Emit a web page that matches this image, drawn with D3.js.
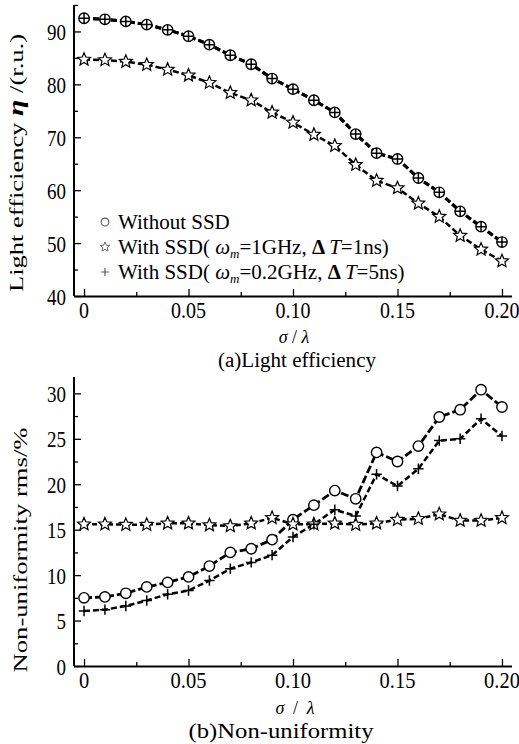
<!DOCTYPE html>
<html><head><meta charset="utf-8">
<script src="https://cdn.jsdelivr.net/npm/d3@7"></script>
<style>
body{margin:0;background:#fff;}
</style></head>
<body>
<svg id="c" width="519" height="744" font-family="Liberation Serif, Times New Roman, DejaVu Serif, serif"></svg>
<script>
const sigma = [0,0.01,0.02,0.03,0.04,0.05,0.06,0.07,0.08,0.09,0.10,0.11,0.12,0.13,0.14,0.15,0.16,0.17,0.18,0.19,0.20];
// (a) Light efficiency
const effWithout = [92.5,92.3,91.9,91.3,90.3,89.1,87.5,85.5,83.8,81.1,79.1,77.0,74.7,70.6,67.0,65.9,62.3,59.6,56.0,53.1,50.2];
const effSSD1 = [84.7,84.6,84.3,83.7,82.8,81.7,80.3,78.4,77.0,74.7,72.8,70.5,68.4,64.8,61.8,60.4,57.5,55.0,51.4,48.8,46.6];
const effSSD2 = [92.5,92.3,91.9,91.3,90.3,89.1,87.5,85.5,83.8,81.1,79.1,77.0,74.7,70.6,67.0,65.9,62.3,59.6,56.0,53.1,50.2];
// (b) Non-uniformity
const nuWithout = [7.5,7.6,8.0,8.7,9.2,9.8,11.0,12.5,12.9,13.9,16.1,17.7,19.3,18.4,23.5,22.5,24.2,27.4,28.2,30.4,28.5];
const nuSSD1 = [15.6,15.6,15.55,15.55,15.7,15.7,15.5,15.4,15.7,16.3,15.6,15.6,15.7,15.55,15.7,16.1,16.2,16.7,16.0,16.0,16.3];
const nuSSD2 = [6.05,6.2,6.6,7.2,7.9,8.3,9.4,10.7,11.4,12.2,14.2,15.6,17.2,16.5,21.1,19.8,21.7,24.8,25.0,27.2,25.3];
const xTicks = [0,0.05,0.10,0.15,0.20];
const xTickLabels = ["0","0.05","0.10","0.15","0.20"];
const effTicks = [40,50,60,70,80,90];
const nuTicks = [0,5,10,15,20,25,30];

const svg = d3.select("#c");

function starPath(r){
  const ri = r*0.45; let p=[];
  for(let i=0;i<10;i++){const a=-Math.PI/2+i*Math.PI/5; const rr=i%2?ri:r; p.push([rr*Math.cos(a),rr*Math.sin(a)]);}
  return "M"+p.map(d=>d.join(",")).join("L")+"Z";
}
function drawMarker(g,type,x,y,s){
  s = s||1;
  if(type==="circle"){
    g.append("circle").attr("cx",x).attr("cy",y).attr("r",5.2*s).attr("fill","#fff").attr("stroke","#000").attr("stroke-width",1.4*s);
  } else if(type==="star"){
    g.append("path").attr("d",starPath(6.8*s)).attr("transform",`translate(${x},${y})`).attr("fill","#fff").attr("stroke","#000").attr("stroke-width",1.2*s).attr("stroke-linejoin","miter");
  } else {
    const h=5.2*s;
    g.append("path").attr("d",`M${x-h},${y}H${x+h}M${x},${y-h}V${y+h}`).attr("stroke","#000").attr("stroke-width",1.5*s).attr("fill","none");
  }
}
function stext(g,x,y,str,size,anchor,ky){
  return g.append("text").attr("transform",`translate(${x},${y}) scale(1,${ky})`)
    .attr("text-anchor",anchor).attr("font-size",size).text(str);
}

function panel(opt){
  const x = d3.scaleLinear().domain([-0.0048,0.2048]).range([74,512]);
  const y = d3.scaleLinear().domain(opt.ydom).range([opt.bottom,opt.top]);
  const g = svg.append("g");
  const xAxis = d3.axisTop(x).tickValues(xTicks).tickSize(7).tickFormat("");
  const xg = g.append("g").attr("transform",`translate(0,${opt.bottom})`).call(xAxis);
  const xMinor = d3.axisTop(x).tickValues([0.025,0.075,0.125,0.175]).tickSize(4).tickFormat("");
  g.append("g").attr("transform",`translate(0,${opt.bottom})`).call(xMinor).select(".domain").remove();
  const yAxis = d3.axisRight(y).tickValues(opt.yticks).tickSize(7).tickFormat("");
  const yg = g.append("g").attr("transform",`translate(74,0)`).call(yAxis);
  const yMinor = d3.axisRight(y).tickValues(opt.yminor).tickSize(4).tickFormat("");
  g.append("g").attr("transform",`translate(74,0)`).call(yMinor).select(".domain").remove();
  g.selectAll(".domain").attr("stroke","#000").attr("stroke-width",2);
  g.selectAll(".tick line").attr("stroke","#000").attr("stroke-width",1.3);
  xg.select(".domain").attr("d",`M74,0.5H512`);
  yg.select(".domain").attr("d",`M0,${opt.top}V${opt.bottom}`);
  xTicks.forEach((v,i)=>{
    stext(g,x(v),opt.bottom+22,xTickLabels[i],opt.xtsize,"middle",1.12);
  });
  opt.yticks.forEach(v=>{
    stext(g,66,y(v)+8.5,v,19,"end",1.22);
  });
  const line = vals => d3.line().x((d,i)=>x(sigma[i])).y(d=>y(d))(vals);
  opt.series.forEach(s=>{
    g.append("path").attr("d",line(s.vals)).attr("fill","none").attr("stroke","#000")
      .attr("stroke-width",s.w).attr("stroke-dasharray",s.dash);
  });
  opt.series.forEach(s=>{
    s.vals.forEach((v,i)=>drawMarker(g,s.type,x(sigma[i]),y(v)));
  });
  const xl = g.append("text").attr("x",opt.xlabX).attr("y",opt.bottom+opt.xlabDy).attr("text-anchor","middle").attr("font-size",18);
  if(opt.xlabLen) xl.attr("textLength",opt.xlabLen).attr("lengthAdjust","spacing");
  xl.append("tspan").attr("font-style","italic").text("σ");
  xl.append("tspan").text(" / ");
  xl.append("tspan").attr("font-style","italic").text("λ");
  g.append("text").attr("x",opt.capX).attr("y",opt.bottom+opt.capDy).attr("text-anchor","middle").attr("font-size",20)
    .attr("textLength",opt.capLen).attr("lengthAdjust","spacingAndGlyphs").text(opt.caption);
  const yl = g.append("text").attr("transform",`translate(${opt.ylabX},${opt.ylabY}) rotate(-90)`).attr("text-anchor","middle").attr("font-size",19.5)
    .attr("textLength",opt.ylabLen).attr("lengthAdjust","spacingAndGlyphs");
  opt.ylabel(yl);
  return {x,y,g};
}

panel({
  ydom:[40,95], top:5, bottom:296, yticks:effTicks, yminor:[45,55,65,75,85,95],
  xtsize:20, xlabX:294, xlabDy:47, xlabLen:0, capX:297, capDy:71, capLen:158,
  caption:"(a)Light efficiency", ylabX:23, ylabY:163, ylabLen:258,
  ylabel: t=>{ t.append("tspan").text("Light efficiency  "); t.append("tspan").attr("font-style","italic").attr("font-weight","bold").attr("font-size",22).text("η"); t.append("tspan").text(" /(r.u.)"); },
  series:[
    {vals:effWithout,type:"circle",w:3,dash:"6,3"},
    {vals:effSSD1,type:"star",w:2.5,dash:"6,3"},
    {vals:effSSD2,type:"plus",w:3,dash:"6,3"}
  ]
});

panel({
  ydom:[0,31.8], top:377, bottom:666, yticks:nuTicks, yminor:[2.5,7.5,12.5,17.5,22.5,27.5],
  xtsize:20.5, xlabX:295, xlabDy:48, xlabLen:39, capX:281, capDy:72, capLen:185,
  caption:"(b)Non-uniformity", ylabX:27, ylabY:550, ylabLen:245,
  ylabel: t=>{ t.text("Non-uniformity rms/%"); },
  series:[
    {vals:nuWithout,type:"circle",w:2.8,dash:"8,3"},
    {vals:nuSSD1,type:"star",w:2.5,dash:"5,3"},
    {vals:nuSSD2,type:"plus",w:2.5,dash:"6,3"}
  ]
});

const leg = svg.append("g");
const legRows = [
  {type:"circle", y:222},
  {type:"star", y:247},
  {type:"plus", y:272}
];
legRows.forEach(r=>drawMarker(leg,r.type,105,r.y,0.75));
leg.selectAll("*").attr("stroke","#555");
leg.append("text").attr("x",118).attr("y",229).attr("font-size",21).text("Without SSD");
function ssdLabel(yy, w, t){
  const tx = leg.append("text").attr("x",118).attr("y",yy).attr("font-size",21);
  tx.append("tspan").text("With SSD( ");
  tx.append("tspan").attr("font-style","italic").text("ω");
  tx.append("tspan").attr("font-style","italic").attr("font-size",13).attr("dy",4).text("m");
  tx.append("tspan").attr("dy",-4).text("="+w+", ");
  tx.append("tspan").attr("font-weight","bold").text("Δ ");
  tx.append("tspan").attr("font-style","italic").text("T");
  tx.append("tspan").text("="+t+")");
}
ssdLabel(254,"1GHz","1ns");
ssdLabel(279,"0.2GHz","5ns");
</script>
</body></html>
